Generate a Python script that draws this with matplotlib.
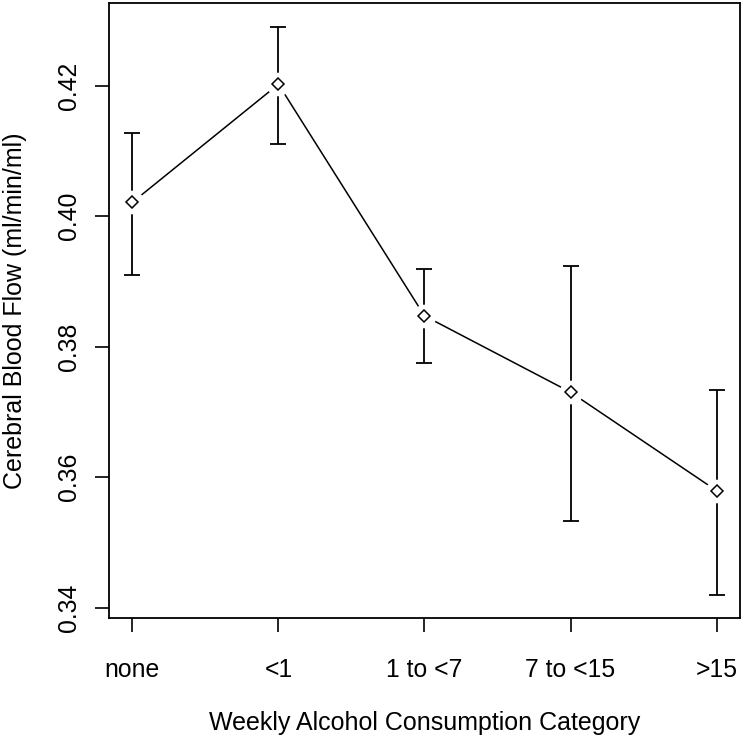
import matplotlib.pyplot as plt

categories = ["none", "<1", "1 to <7", "7 to <15", ">15"]
flow_mean = [0.4021, 0.4202, 0.3847, 0.3730, 0.3579]
flow_lower = [0.3910, 0.4110, 0.3775, 0.3532, 0.3419]
flow_upper = [0.4127, 0.4289, 0.3919, 0.3924, 0.3733]

plt.rcParams['font.family'] = ['Liberation Sans', 'DejaVu Sans']

x = list(range(1, len(categories) + 1))
err_lo = [m - lo for m, lo in zip(flow_mean, flow_lower)]
err_hi = [hi - m for m, hi in zip(flow_mean, flow_upper)]

fig = plt.figure(figsize=(7.42, 7.39), dpi=100)
ax = fig.add_axes([0.1469, 0.1637, 0.8504, 0.8326])

# connecting line and error bars
ax.plot(x, flow_mean, color="black", lw=1.1, zorder=2)
ax.errorbar(x, flow_mean, yerr=[err_lo, err_hi], fmt="none", ecolor="black",
            elinewidth=1.3, capsize=6, capthick=1.3, zorder=2)
# gaps around points (R type="b" look)
ax.plot(x, flow_mean, "o", ms=17, mfc="white", mec="none", zorder=3)
ax.plot(x, flow_mean, "D", ms=6, mfc="white", mec="black", mew=1.1, zorder=4)

ax.set_xlim(0.84, 5.16)
ax.set_ylim(0.33839, 0.43269)
ax.set_xticks(x)
ax.set_xticklabels(categories)
ax.set_yticks([0.34, 0.36, 0.38, 0.40, 0.42])
ax.set_yticklabels(["0.34", "0.36", "0.38", "0.40", "0.42"], rotation=90, va="center")

ax.tick_params(axis="both", length=10, width=1.2, labelsize=17.8, color="black")
ax.tick_params(axis="x", pad=19)
ax.tick_params(axis="y", pad=10)
for sp in ax.spines.values():
    sp.set_linewidth(1.3)

ax.set_xlabel("Weekly Alcohol Consumption Category", fontsize=18, labelpad=21)
ax.set_ylabel("Cerebral Blood Flow (ml/min/ml)", fontsize=18)
ax.yaxis.set_label_coords(-0.13, 0.5)

fig.savefig("out.png", dpi=100)
